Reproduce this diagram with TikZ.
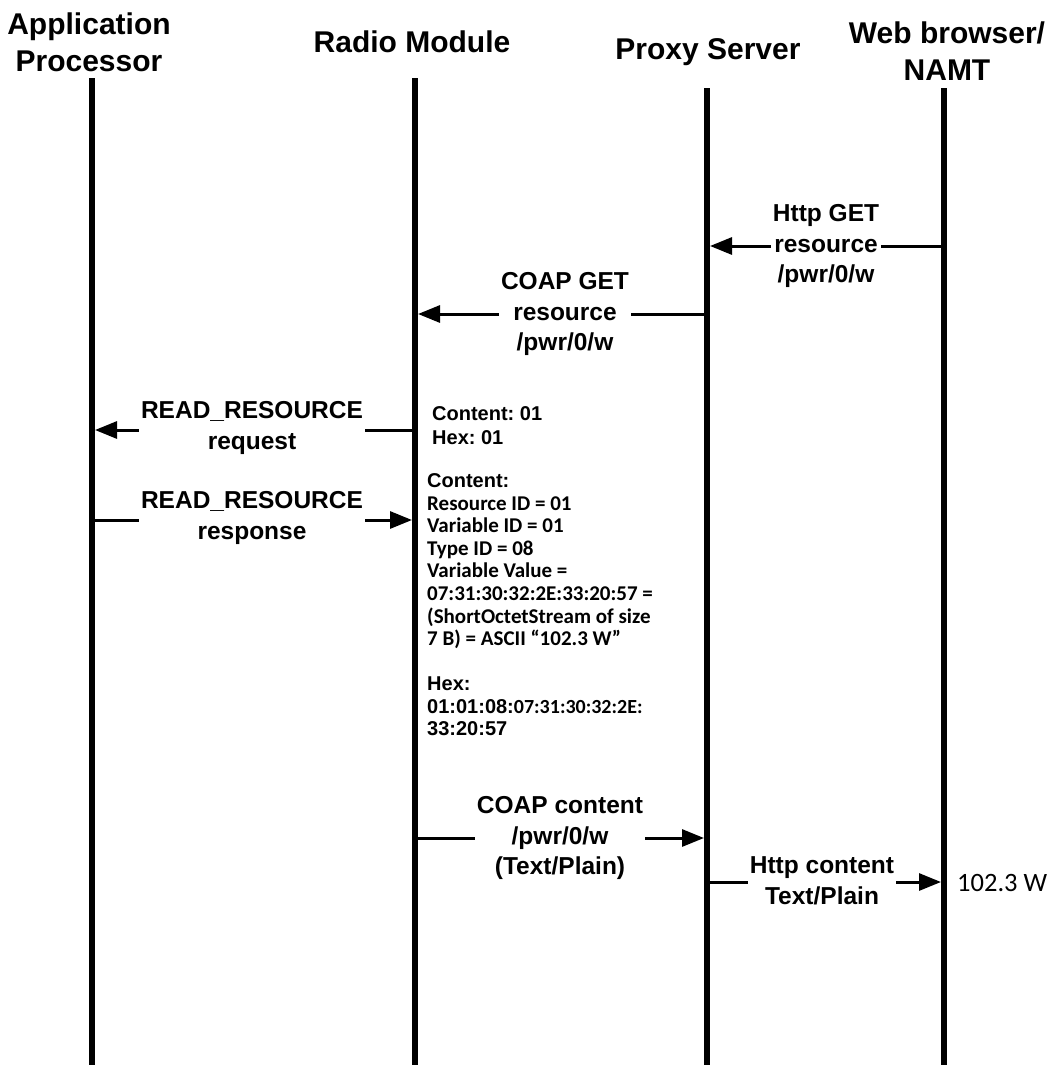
\documentclass[tikz,border=0pt]{standalone}
\usepackage{fontspec}
\setmainfont{Liberation Sans}
\newfontfamily\calfont{Carlito}
\usetikzlibrary{arrows.meta}
\frenchspacing
\tikzset{
  lifeline/.style={line width=6.5pt},
  msg/.style={line width=3pt,-{Triangle[length=22pt,width=17pt]},shorten >=3pt},
  title/.style={font=\fontsize{30}{37}\selectfont\bfseries,align=center,inner sep=0pt},
  lbl/.style={font=\fontsize{24.5}{30.5}\selectfont\bfseries,align=center,fill=white,inner sep=2pt},
  arl/.style={font=\fontsize{20}{24}\selectfont\bfseries\frenchspacing,anchor=base west,inner sep=0pt},
  cal/.style={font=\fontsize{21}{22.6}\selectfont\calfont\bfseries\frenchspacing,anchor=base west,inner sep=0pt},
}
\begin{document}
\begin{tikzpicture}[x=1pt,y=-1pt]
\useasboundingbox (0,0) rectangle (1055,1065);
% titles
\node[title] (tap) at (89,42) {Application\\Processor};
\node[title] (trm) at (412,42) {Radio Module};
\node[title] (tpx) at (708,52) {Proxy Server};
\node[title] (twb) at (947,51) {Web browser/\\NAMT};
% lifelines
\coordinate (ap) at (92,78);
\coordinate (rm) at (415,78);
\coordinate (px) at (707,88);
\coordinate (wb) at (944,88);
\coordinate (apb) at (92,1065);
\coordinate (rmb) at (415,1065);
\coordinate (pxb) at (707,1065);
\coordinate (wbb) at (944,1065);
\draw[lifeline] (ap) -- (apb);
\draw[lifeline] (rm) -- (rmb);
\draw[lifeline] (px) -- (pxb);
\draw[lifeline] (wb) -- (wbb);
% messages
\draw[msg] (wb |- 0,246) -- (px |- 0,246);
\node[lbl] (l1) at (826,246) {Http GET\\resource\\/pwr/0/w};
\draw[msg] (px |- 0,314) -- (rm |- 0,314);
\node[lbl] (l2) at (565,314) {COAP GET\\resource\\/pwr/0/w};
\draw[msg] (rm |- 0,430) -- (ap |- 0,430);
\node[lbl] (l3) at (252,428) {READ\_RESOURCE\\request};
\draw[msg] (ap |- 0,520) -- (rm |- 0,520);
\node[lbl] (l4) at (252,518) {READ\_RESOURCE\\response};
\draw[msg] (rm |- 0,838) -- (px |- 0,838);
\node[lbl] (l5) at (560,838) {COAP content\\/pwr/0/w\\(Text/Plain)};
\draw[msg] (px |- 0,882) -- (wb |- 0,882);
\node[lbl] (l6) at (822,881) {Http content\\Text/Plain};
\node[font=\fontsize{26.5}{30}\selectfont\calfont,anchor=west,inner sep=0pt] (val) at (957,883) {102.3 W};
% content text
\node[arl] (c1) at (432,420) {Content: 01};
\node[arl] (c2) at (432,444) {Hex: 01};
\node[arl] (c3) at (427,487) {Content:};
\node[cal] (c4) at (427,510) {Resource ID = 01};
\node[cal] (c5) at (427,532) {Variable ID = 01};
\node[cal] (c6) at (427,555) {Type ID = 08};
\node[cal] (c7) at (427,577) {Variable Value =};
\node[cal] (c8) at (427,600) {07:31:30:32:2E:33:20:57 =};
\node[cal] (c9) at (427,623) {(ShortOctetStream of size};
\node[cal] (c10) at (427,645) {7 B) = ASCII “102.3 W”};
\node[arl] (c11) at (427,690) {Hex:};
\node[arl] (c12) at (427,713) {01:01:08:{\calfont 07:31:30:32:2E:}};
\node[arl] (c13) at (427,735) {33:20:57};
\end{tikzpicture}
\end{document}
